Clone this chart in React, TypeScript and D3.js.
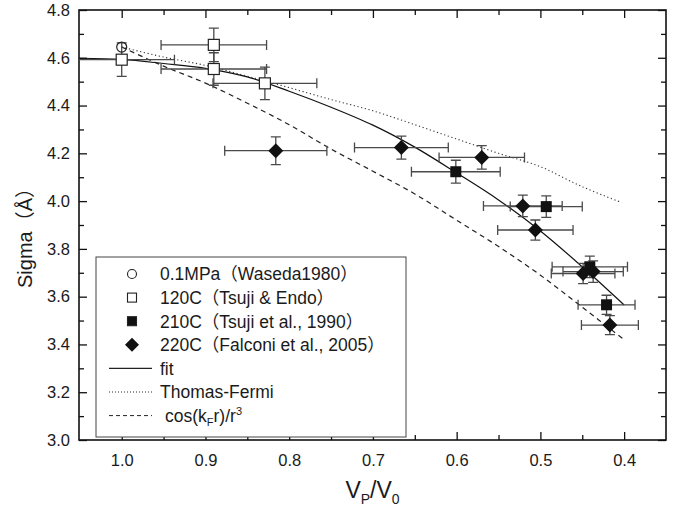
import React, { useEffect, useRef } from 'react';
import * as d3 from 'd3';

// data
const waseda = [{ x: 1.0, y: 4.645 }];

const tsujiEndo = [
  { x: 1.0, y: 4.592, xe: 0.063, ye: 0.07 },
  { x: 0.89, y: 4.654, xe: 0.063, ye: 0.07 },
  { x: 0.89, y: 4.553, xe: 0.063, ye: 0.068 },
  { x: 0.829, y: 4.493, xe: 0.062, ye: 0.068 },
];

const tsuji1990 = [
  { x: 0.601, y: 4.123, xe: 0.053, ye: 0.048 },
  { x: 0.493, y: 3.977, xe: 0.043, ye: 0.045 },
  { x: 0.441, y: 3.725, xe: 0.045, ye: 0.045 },
  { x: 0.421, y: 3.566, xe: 0.034, ye: 0.04 },
];

const falconi = [
  { x: 0.816, y: 4.211, xe: 0.061, ye: 0.058 },
  { x: 0.666, y: 4.224, xe: 0.056, ye: 0.048 },
  { x: 0.57, y: 4.183, xe: 0.051, ye: 0.049 },
  { x: 0.521, y: 3.98, xe: 0.047, ye: 0.045 },
  { x: 0.506, y: 3.879, xe: 0.045, ye: 0.042 },
  { x: 0.449, y: 3.697, xe: 0.038, ye: 0.042 },
  { x: 0.437, y: 3.705, xe: 0.036, ye: 0.045 },
  { x: 0.417, y: 3.481, xe: 0.034, ye: 0.04 },
];

const fitLine: [number, number][] = [
  [1.05, 4.598], [1.0, 4.593], [0.95, 4.576], [0.9, 4.556], [0.85, 4.52],
  [0.8, 4.46], [0.75, 4.393], [0.7, 4.318], [0.65, 4.226], [0.6, 4.118],
  [0.55, 4.005], [0.5, 3.875], [0.45, 3.725], [0.4, 3.565],
];

const thomasFermi: [number, number][] = [
  [1.0, 4.645], [0.95, 4.603], [0.9, 4.568], [0.85, 4.523], [0.8, 4.475],
  [0.75, 4.425], [0.7, 4.378], [0.65, 4.32], [0.6, 4.26], [0.55, 4.2],
  [0.5, 4.144], [0.45, 4.06], [0.403, 3.994],
];

const cosKr: [number, number][] = [
  [1.0, 4.645], [0.95, 4.565], [0.9, 4.494], [0.85, 4.41], [0.8, 4.32],
  [0.75, 4.218], [0.7, 4.125], [0.65, 4.03], [0.6, 3.92], [0.55, 3.81],
  [0.5, 3.69], [0.45, 3.556], [0.4, 3.42],
];

const xTicks = [1.0, 0.9, 0.8, 0.7, 0.6, 0.5, 0.4];
const xMinor = [0.95, 0.85, 0.75, 0.65, 0.55, 0.45];
const yTicks = [3.0, 3.2, 3.4, 3.6, 3.8, 4.0, 4.2, 4.4, 4.6, 4.8];
const yMinor = [3.1, 3.3, 3.5, 3.7, 3.9, 4.1, 4.3, 4.5, 4.7];

const legendItems = [
  { kind: 'circle', label: '0.1MPa（Waseda1980）' },
  { kind: 'square', label: '120C（Tsuji & Endo）' },
  { kind: 'fsquare', label: '210C（Tsuji et al., 1990）' },
  { kind: 'diamond', label: '220C（Falconi et al., 2005）' },
  { kind: 'solid', label: 'fit' },
  { kind: 'dotted', label: 'Thomas-Fermi' },
  { kind: 'dashed', label: 'cos' },
];

const FONT = "'Liberation Sans', Arial, 'Noto Sans CJK JP', sans-serif";

const diamondPath = (cx: number, cy: number, r: number) =>
  `M${cx},${cy - r}L${cx + r},${cy}L${cx},${cy + r}L${cx - r},${cy}Z`;

const App = () => {
  const ref = useRef<SVGSVGElement>(null);

  useEffect(() => {
    const svg = d3.select(ref.current);
    svg.selectAll('*').remove();

    const width = 685;
    const height = 511;
    const margin = { top: 10, right: 19, bottom: 71, left: 79 };
    const x = d3.scaleLinear().domain([1.051, 0.35]).range([margin.left, width - margin.right]);
    const y = d3.scaleLinear().domain([3.0, 4.8]).range([height - margin.bottom, margin.top]);
    const [x0, x1] = x.range();
    const [y0, y1] = y.range();

    svg.append('rect').attr('width', width).attr('height', height).attr('fill', 'white');

    svg.append('clipPath').attr('id', 'plot-clip')
      .append('rect').attr('x', x0).attr('y', y1).attr('width', x1 - x0).attr('height', y0 - y1);

    // axes (ticks pointing inward on all four sides)
    const styleAxis = (g: any) => {
      g.select('.domain').remove();
      g.selectAll('line').attr('stroke', '#111').attr('stroke-width', 1.3);
      g.selectAll('text').attr('font-family', FONT).attr('font-size', 16.5).attr('fill', '#1a1a1a');
    };
    svg.append('g').attr('transform', `translate(0,${y0})`)
      .call(d3.axisBottom(x).tickValues(xTicks).tickSize(-8).tickPadding(14).tickFormat(d3.format('.1f')))
      .call(styleAxis);
    svg.append('g').attr('transform', `translate(0,${y0})`)
      .call(d3.axisBottom(x).tickValues(xMinor).tickSize(-5).tickFormat(() => '')).call(styleAxis);
    svg.append('g').attr('transform', `translate(0,${y1})`)
      .call(d3.axisTop(x).tickValues(xTicks).tickSize(-8).tickFormat(() => '')).call(styleAxis);
    svg.append('g').attr('transform', `translate(0,${y1})`)
      .call(d3.axisTop(x).tickValues(xMinor).tickSize(-5).tickFormat(() => '')).call(styleAxis);
    svg.append('g').attr('transform', `translate(${x0},0)`)
      .call(d3.axisLeft(y).tickValues(yTicks).tickSize(-8).tickPadding(9).tickFormat(d3.format('.1f')))
      .call(styleAxis);
    svg.append('g').attr('transform', `translate(${x0},0)`)
      .call(d3.axisLeft(y).tickValues(yMinor).tickSize(-5).tickFormat(() => '')).call(styleAxis);
    svg.append('g').attr('transform', `translate(${x1},0)`)
      .call(d3.axisRight(y).tickValues(yTicks).tickSize(-8).tickFormat(() => '')).call(styleAxis);
    svg.append('g').attr('transform', `translate(${x1},0)`)
      .call(d3.axisRight(y).tickValues(yMinor).tickSize(-5).tickFormat(() => '')).call(styleAxis);

    svg.append('rect')
      .attr('x', x0).attr('y', y1).attr('width', x1 - x0).attr('height', y0 - y1)
      .attr('fill', 'none').attr('stroke', '#111').attr('stroke-width', 1.6);

    const plot = svg.append('g').attr('clip-path', 'url(#plot-clip)');

    // model curves
    const line = d3.line<[number, number]>()
      .x((d) => x(d[0])).y((d) => y(d[1])).curve(d3.curveCatmullRom);
    plot.append('path').datum(fitLine).attr('d', line)
      .attr('fill', 'none').attr('stroke', '#111').attr('stroke-width', 1.2);
    plot.append('path').datum(thomasFermi).attr('d', line)
      .attr('fill', 'none').attr('stroke', '#333').attr('stroke-width', 1.1).attr('stroke-dasharray', '1.2,2.6');
    plot.append('path').datum(cosKr).attr('d', line)
      .attr('fill', 'none').attr('stroke', '#222').attr('stroke-width', 1.2).attr('stroke-dasharray', '5,4');

    // error bars
    const allErr = [...tsujiEndo, ...tsuji1990, ...falconi];
    const cap = 5;
    const eb = plot.append('g').attr('stroke', '#4a4a4a').attr('stroke-width', 1.3).attr('fill', 'none');
    allErr.forEach((d) => {
      const cx = x(d.x);
      const cy = y(d.y);
      const xl = x(d.x + d.xe);
      const xr = x(d.x - d.xe);
      const yt = y(d.y + d.ye);
      const yb = y(d.y - d.ye);
      eb.append('path').attr('d',
        `M${xl},${cy}H${xr}M${xl},${cy - cap}V${cy + cap}M${xr},${cy - cap}V${cy + cap}` +
        `M${cx},${yt}V${yb}M${cx - cap},${yt}H${cx + cap}M${cx - cap},${yb}H${cx + cap}`);
    });

    // markers
    plot.selectAll('.wa').data(waseda).enter().append('circle')
      .attr('cx', (d) => x(d.x)).attr('cy', (d) => y(d.y)).attr('r', 5)
      .attr('fill', 'none').attr('stroke', '#222').attr('stroke-width', 1.2);
    plot.selectAll('.te').data(tsujiEndo).enter().append('rect')
      .attr('x', (d) => x(d.x) - 5.5).attr('y', (d) => y(d.y) - 5.5).attr('width', 11).attr('height', 11)
      .attr('fill', 'white').attr('stroke', '#222').attr('stroke-width', 1.2);
    plot.selectAll('.ts').data(tsuji1990).enter().append('rect')
      .attr('x', (d) => x(d.x) - 5.5).attr('y', (d) => y(d.y) - 5.5).attr('width', 11).attr('height', 11)
      .attr('fill', '#111');
    plot.selectAll('.fa').data(falconi).enter().append('path')
      .attr('d', (d) => diamondPath(x(d.x), y(d.y), 7.5)).attr('fill', '#111');

    // legend
    const lg = svg.append('g');
    lg.append('rect').attr('x', 96).attr('y', 257).attr('width', 310).attr('height', 180)
      .attr('fill', 'white').attr('stroke', '#444').attr('stroke-width', 1);
    legendItems.forEach((it, i) => {
      const ly = 274 + i * 23.6;
      const sx = 132;
      if (it.kind === 'circle') {
        lg.append('circle').attr('cx', sx).attr('cy', ly).attr('r', 4.5)
          .attr('fill', 'none').attr('stroke', '#222').attr('stroke-width', 1.1);
      } else if (it.kind === 'square' || it.kind === 'fsquare') {
        lg.append('rect').attr('x', sx - 4.5).attr('y', ly - 4.5).attr('width', 9).attr('height', 9)
          .attr('fill', it.kind === 'fsquare' ? '#111' : 'white').attr('stroke', '#222').attr('stroke-width', 1.1);
      } else if (it.kind === 'diamond') {
        lg.append('path').attr('d', diamondPath(sx, ly, 7)).attr('fill', '#111');
      } else {
        const ln = lg.append('line').attr('x1', 109).attr('x2', 152).attr('y1', ly).attr('y2', ly)
          .attr('stroke', '#222').attr('stroke-width', it.kind === 'solid' ? 1.2 : 1);
        if (it.kind === 'dotted') ln.attr('stroke-dasharray', '1,2');
        if (it.kind === 'dashed') ln.attr('stroke-dasharray', '4,3');
      }
      const t = lg.append('text').attr('x', it.kind === 'dashed' ? 165 : 160).attr('y', ly).attr('dy', '0.36em')
        .attr('font-family', FONT).attr('font-size', 17.5).attr('fill', '#1a1a1a');
      if (it.kind === 'dashed') {
        t.append('tspan').text('cos(k');
        t.append('tspan').attr('font-size', 11).attr('dy', 4).text('F');
        t.append('tspan').attr('dy', -4).text('r)/r');
        t.append('tspan').attr('font-size', 11).attr('dy', -7).text('3');
      } else {
        t.text(it.label);
      }
    });

    // axis titles
    const xt = svg.append('text').attr('x', (x0 + x1) / 2).attr('y', 498).attr('text-anchor', 'middle')
      .attr('font-family', FONT).attr('font-size', 23).attr('fill', '#1a1a1a');
    xt.append('tspan').text('V');
    xt.append('tspan').attr('font-size', 14).attr('dy', 6).text('P');
    xt.append('tspan').attr('dy', -6).text('/V');
    xt.append('tspan').attr('font-size', 14).attr('dy', 6).text('0');

    svg.append('text').attr('transform', 'translate(32,233) rotate(-90)').attr('text-anchor', 'middle')
      .attr('font-family', FONT).attr('font-size', 20).attr('fill', '#1a1a1a')
      .text('Sigma（Å）');
  }, []);

  return (
    <svg ref={ref} width={685} height={511} style={{ position: 'absolute', left: 0, top: 0 }} />
  );
};

export default App;
